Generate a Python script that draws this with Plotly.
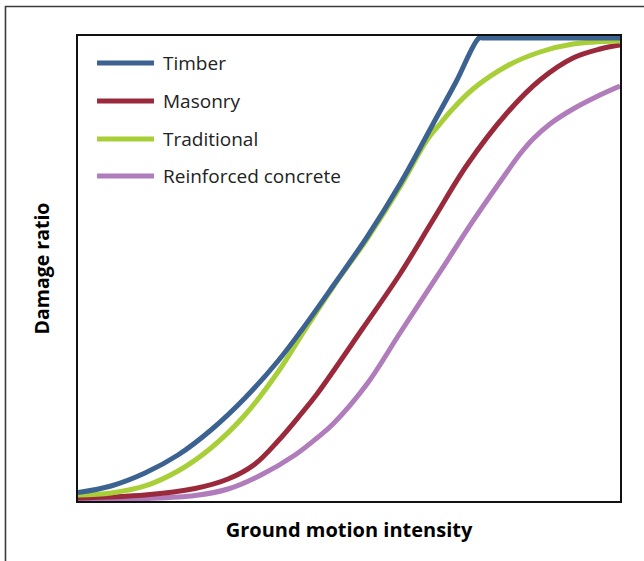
import plotly.graph_objects as go

# Vulnerability curves: damage ratio versus ground motion intensity
series_names = ["Timber", "Masonry", "Traditional", "Reinforced concrete"]
series_colors = ["#3b6291", "#9a2a3b", "#a8cf38", "#b07cbb"]

timber_x = [0, 0.609, 1.236, 1.845, 2.454, 3.081, 3.690, 4.114, 4.705, 5.332, 5.941, 6.550, 6.974, 7.399, 7.48, 8.5, 10]
timber_y = [0.0183, 0.0323, 0.0602, 0.0989, 0.1527, 0.2215, 0.3011, 0.3656, 0.4624, 0.5677, 0.6817, 0.8108, 0.9011, 0.9957, 0.9957, 0.9957, 0.9957]

masonry_x = [0, 1.236, 2.159, 2.768, 3.266, 3.690, 4.114, 4.410, 5.258, 5.941, 6.550, 7.177, 7.915, 8.524, 9.133, 9.631, 10]
masonry_y = [0.0065, 0.0129, 0.0269, 0.0473, 0.0796, 0.1290, 0.1871, 0.2301, 0.3720, 0.4882, 0.6043, 0.7226, 0.8344, 0.9054, 0.9527, 0.9720, 0.9806]

traditional_x = [0, 0.609, 1.236, 1.845, 2.454, 3.081, 3.690, 4.114, 4.705, 5.332, 5.941, 6.439, 6.679, 6.863, 7.288, 7.915, 8.524, 9.133, 10]
traditional_y = [0.0129, 0.0172, 0.0323, 0.0645, 0.1140, 0.1849, 0.2774, 0.3548, 0.4602, 0.5634, 0.6753, 0.7763, 0.8108, 0.8366, 0.8860, 0.9355, 0.9656, 0.9828, 0.9892]

concrete_x = [0, 1.236, 2.159, 2.768, 3.376, 4.004, 4.410, 4.705, 5.332, 5.941, 6.679, 7.288, 7.915, 8.155, 8.395, 8.708, 9.133, 9.631, 10]
concrete_y = [0.003, 0.0054, 0.0118, 0.0258, 0.0559, 0.0989, 0.1355, 0.1656, 0.2516, 0.3613, 0.4925, 0.6022, 0.7075, 0.7462, 0.7785, 0.8108, 0.8430, 0.8731, 0.8925]

series_x = [timber_x, masonry_x, traditional_x, concrete_x]
series_y = [timber_y, masonry_y, traditional_y, concrete_y]

fig = go.Figure()

# draw back to front so Timber sits on top
for i in [3, 1, 2, 0]:
    fig.add_trace(go.Scatter(
        x=series_x[i], y=series_y[i], mode="lines", name=series_names[i],
        line=dict(color=series_colors[i], width=5, shape="spline", smoothing=1.0),
        showlegend=False, hoverinfo="skip",
    ))

# hand-built legend with long line samples
legend_y = [0.9419, 0.8602, 0.7785, 0.6989]
shapes = []
annotations = []
for name, color, ly in zip(series_names, series_colors, legend_y):
    shapes.append(dict(type="line", xref="paper", yref="paper",
                       x0=0.0351, x1=0.1402, y0=ly, y1=ly,
                       line=dict(color=color, width=5)))
    annotations.append(dict(xref="paper", yref="paper", x=0.1531, y=ly,
                            xanchor="left", yanchor="middle", showarrow=False,
                            text=name, font=dict(family="Open Sans", size=19, color="#222222")))

# outer frame around the whole figure
shapes.append(dict(type="rect", xref="paper", yref="paper",
                   x0=-0.1338, x1=1.06, y0=-0.16, y1=1.0634,
                   line=dict(color="#3c3c3c", width=1.6), layer="below"))

fig.update_layout(
    width=644, height=561,
    margin=dict(l=78, r=24, t=36, b=60),
    paper_bgcolor="white", plot_bgcolor="white",
    shapes=shapes, annotations=annotations,
    xaxis=dict(range=[0, 10], showgrid=False, zeroline=False, showticklabels=False,
               ticks="", showline=True, mirror=True, linecolor="#111111", linewidth=1.5,
               title=dict(text="<b>Ground motion intensity</b>", standoff=21,
                          font=dict(family="Open Sans", size=20, color="#000000"))),
    yaxis=dict(range=[0, 1], showgrid=False, zeroline=False, showticklabels=False,
               ticks="", showline=True, mirror=True, linecolor="#111111", linewidth=1.5,
               title=dict(text="<b>Damage ratio</b>", standoff=21,
                          font=dict(family="Open Sans", size=19.5, color="#000000"))),
)

fig.write_html("out.html")
